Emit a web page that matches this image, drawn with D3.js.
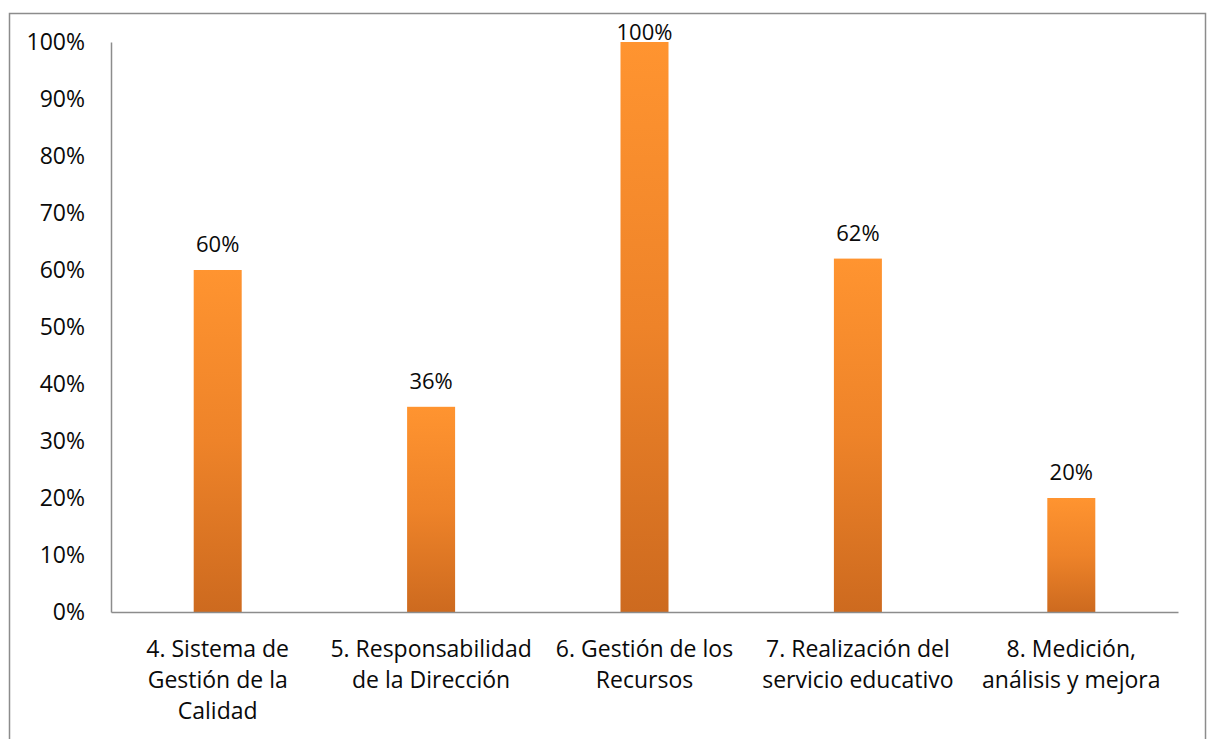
<!DOCTYPE html>
<html>
<head>
<meta charset="utf-8">
<script src="https://cdn.jsdelivr.net/npm/d3@7"></script>
<style>
  body { margin: 0; background: #fff; }
  text { font-family: "Open Sans", "Liberation Sans", sans-serif; fill: #0a0a0a; }
</style>
</head>
<body>
<div id="chart"></div>
<script>
// Data
const categories = [
  ["4. Sistema de", "Gestión de la", "Calidad"],
  ["5. Responsabilidad", "de la Dirección"],
  ["6. Gestión de los", "Recursos"],
  ["7. Realización del", "servicio educativo"],
  ["8. Medición,", "análisis y mejora"]
];
const values = [0.60, 0.36, 1.00, 0.62, 0.20];
const valueLabels = ["60%", "36%", "100%", "62%", "20%"];
const yTicks = [0, 0.1, 0.2, 0.3, 0.4, 0.5, 0.6, 0.7, 0.8, 0.9, 1.0];

const width = 1209, height = 739;
const plot = { left: 111, right: 1178, top: 42, bottom: 612 };

const svg = d3.select("#chart").append("svg")
  .attr("width", width)
  .attr("height", height);

// gradient for bars
const defs = svg.append("defs");
const grad = defs.append("linearGradient")
  .attr("id", "barGrad")
  .attr("x1", 0).attr("y1", 0).attr("x2", 0).attr("y2", 1);
grad.append("stop").attr("offset", "0%").attr("stop-color", "#ff9430");
grad.append("stop").attr("offset", "50%").attr("stop-color", "#ee8329");
grad.append("stop").attr("offset", "100%").attr("stop-color", "#cd6a1f");

// outer border
svg.append("rect")
  .attr("x", 9.5).attr("y", 13.5)
  .attr("width", 1196).attr("height", 740)
  .attr("fill", "none")
  .attr("stroke", "#8c8c8c")
  .attr("stroke-width", 1.5);

const x = d3.scaleBand()
  .domain(d3.range(categories.length))
  .range([plot.left, plot.right])
  .padding(0);

const y = d3.scaleLinear()
  .domain([0, 1])
  .range([plot.bottom, plot.top]);

const barW = 48;

// bars
svg.selectAll(".bar")
  .data(values)
  .join("rect")
  .attr("class", "bar")
  .attr("x", (d, i) => x(i) + x.bandwidth() / 2 - barW / 2)
  .attr("y", d => y(d))
  .attr("width", barW)
  .attr("height", d => y(0) - y(d))
  .attr("fill", "url(#barGrad)");

// y axis
const yAxis = svg.append("g")
  .attr("transform", "translate(" + plot.left + ",0)")
  .call(d3.axisLeft(y).tickValues(yTicks).tickSize(0).tickPadding(26)
    .tickFormat(d3.format(".0%")));
yAxis.select(".domain").attr("stroke", "#8c8c8c").attr("stroke-width", 1.5);
yAxis.selectAll("text")
  .style("font-size", "23px")
  .style("font-family", "'Open Sans', sans-serif")
  .attr("fill", "#0a0a0a");

// x axis line
const xAxis = svg.append("g")
  .attr("transform", "translate(0," + plot.bottom + ")")
  .call(d3.axisBottom(x).tickSize(0).tickFormat(""));
xAxis.select(".domain").attr("stroke", "#8c8c8c").attr("stroke-width", 1.5);

// category labels
categories.forEach(function(lines, i) {
  const t = svg.append("text")
    .attr("text-anchor", "middle")
    .style("font-size", "23px");
  lines.forEach(function(line, j) {
    t.append("tspan")
      .attr("x", x(i) + x.bandwidth() / 2)
      .attr("y", plot.bottom + 45 + j * 31)
      .text(line);
  });
});

// value labels
svg.selectAll(".value-label")
  .data(values)
  .join("text")
  .attr("class", "value-label")
  .attr("text-anchor", "middle")
  .style("font-size", "22px")
  .attr("x", (d, i) => x(i) + x.bandwidth() / 2)
  .attr("y", d => Math.max(y(d) - 18, 40))
  .text((d, i) => valueLabels[i]);
</script>
</body>
</html>
